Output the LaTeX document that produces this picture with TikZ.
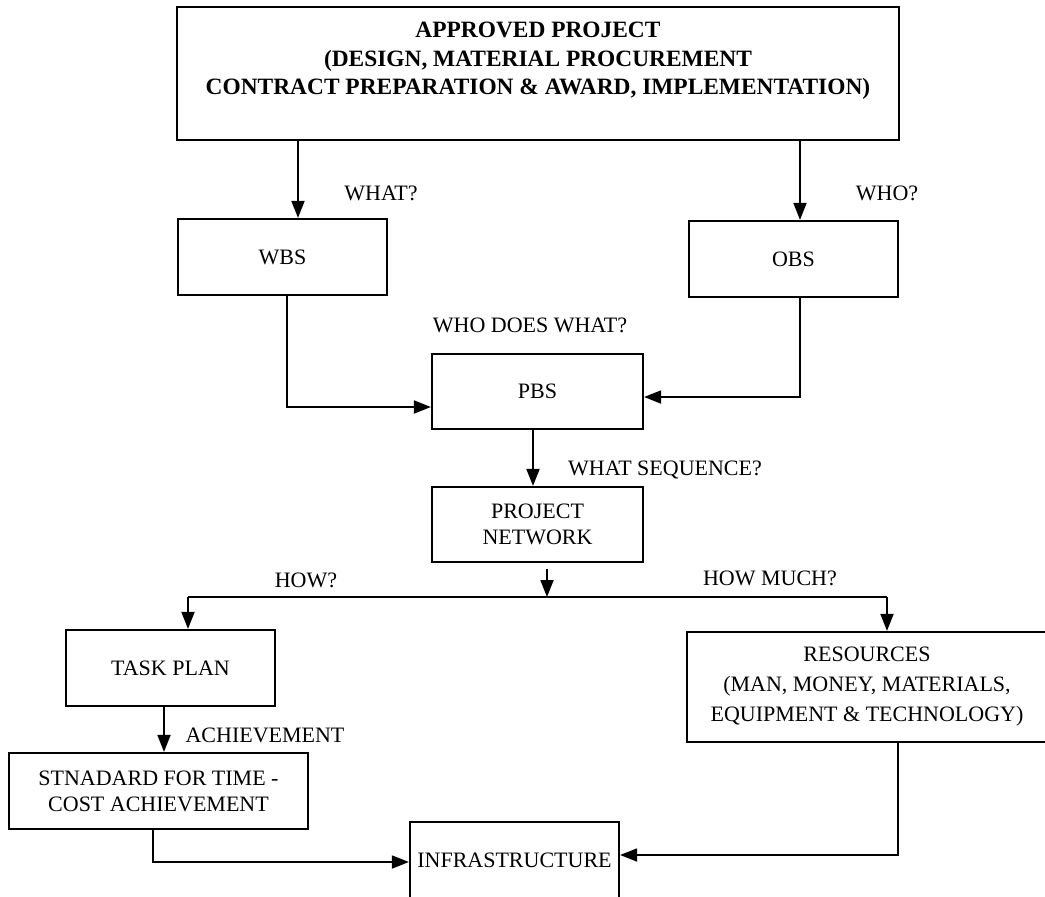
\documentclass[tikz,border=0pt]{standalone}
\usepackage{fontspec}
\setmainfont{Liberation Serif}
\usetikzlibrary{arrows.meta}
\begin{document}
\begin{tikzpicture}[x=0.5pt,y=-0.5pt,
  box/.style={draw,line width=1.1pt,inner sep=0pt,align=center,
    font=\fontsize{11}{13}\selectfont},
  lbl/.style={inner sep=0pt,font=\fontsize{11}{13}\selectfont},
  arr/.style={line width=0.9pt,-{Triangle[length=8.5pt,width=6.5pt]}},
  ln/.style={line width=0.9pt}]
\useasboundingbox (0,0) rectangle (1045,896);

% boxes
\node[box,minimum width=361pt,minimum height=66.5pt] (top) at (538,73.5) {};
\node[inner sep=0pt,align=center,font=\fontsize{11.7}{14.3}\selectfont\bfseries] (toptext) at (538,61)
  {APPROVED PROJECT\\(DESIGN, MATERIAL PROCUREMENT\\CONTRACT PREPARATION \& AWARD, IMPLEMENTATION)};
\node[box,minimum width=104.5pt,minimum height=38pt] (wbs) at (282.5,257) {WBS};
\node[box,minimum width=104.5pt,minimum height=38pt] (obs) at (793.5,259) {OBS};
\node[box,minimum width=105.5pt,minimum height=37.5pt] (pbs) at (537.5,391.5) {PBS};
\node[box,minimum width=105.5pt,minimum height=37.5pt] (net) at (537.5,524.5) {PROJECT\\NETWORK};
\node[box,minimum width=104.5pt,minimum height=38pt] (task) at (170.5,668) {TASK PLAN};
\node[box,minimum width=149.5pt,minimum height=38pt] (std) at (158.5,791) {STNADARD FOR TIME -\\COST ACHIEVEMENT};
\node[box,minimum width=180pt,minimum height=55pt,font=\fontsize{11}{15}\selectfont] (res) at (867,687)
  {RESOURCES\\(MAN, MONEY, MATERIALS,\\EQUIPMENT \& TECHNOLOGY)};
\node[box,minimum width=104.5pt,minimum height=38pt] (infra) at (514.5,860) {INFRASTRUCTURE};

% labels
\node[lbl] (lwhat) at (381,193) {WHAT?};
\node[lbl] (lwho) at (887,193) {WHO?};
\node[lbl] (lwdw) at (530,325) {WHO DOES WHAT?};
\node[lbl] (lseq) at (665,470) {WHAT SEQUENCE?};
\node[lbl] (lhow) at (306,580) {HOW?};
\node[lbl] (lmuch) at (770,578) {HOW MUCH?};
\node[lbl] (lach) at (265,735) {ACHIEVEMENT};

% helper coordinates
\coordinate (wx) at (298,0);
\coordinate (ox) at (800,0);
\coordinate (wl) at (287,407);
\coordinate (ol) at (800,397);
\coordinate (pn) at (533,0);
\coordinate (bus) at (547,597);
\coordinate (bl) at (188,597);
\coordinate (br) at (887,597);
\coordinate (ts) at (164,0);
\coordinate (si) at (153,862);
\coordinate (ri) at (898,855);

% connectors
\draw[arr] (top.south -| wx) -- (wbs.north -| wx);
\draw[arr] (top.south -| ox) -- (obs.north -| ox);
\draw[arr] (wbs.south -| wl) |- (pbs.west |- wl);
\draw[arr] (obs.south -| ol) |- (pbs.east |- ol);
\draw[arr] (pbs.south -| pn) -- (net.north -| pn);
\draw[arr] ([yshift=-3pt]net.south -| bus) -- (bus);
\draw[ln] (bl) -- (br);
\draw[arr] (bl) -- (task.north -| bl);
\draw[arr] (br) -- (res.north -| br);
\draw[arr] (task.south -| ts) -- (std.north -| ts);
\draw[arr] (std.south -| si) |- (infra.west |- si);
\draw[arr] (res.south -| ri) |- (infra.east |- ri);
\end{tikzpicture}
\end{document}
